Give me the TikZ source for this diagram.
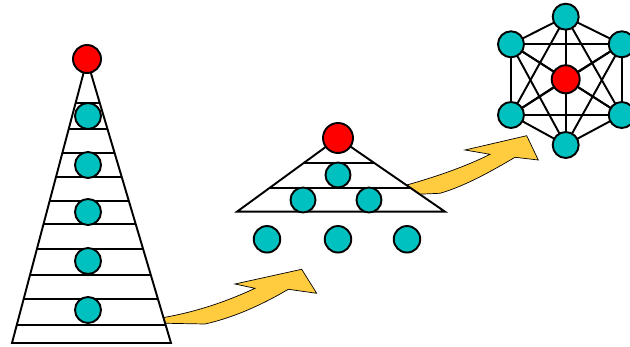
\documentclass[tikz,border=0pt]{standalone}
\usetikzlibrary{calc,backgrounds}
\definecolor{tealball}{RGB}{0,192,192}
\definecolor{goldarrow}{RGB}{255,204,64}
\begin{document}
\begin{tikzpicture}[x=0.02cm,y=-0.02cm,line width=1.1pt,
  ball/.style={circle,draw,fill=tealball,inner sep=0pt,minimum size=0.52cm},
  root/.style={circle,draw,fill=red,inner sep=0pt,minimum size=0.56cm},
  bigarrow/.style={fill=goldarrow,draw=black,line width=0.4pt,line join=miter}]
\useasboundingbox (0,0) rectangle (630,347);
% yellow arrows (tails go under the triangles)
\draw[bigarrow] (150,319.5) -- (165,317.3) .. controls (200,311) and (230,300) .. (255,288.3) -- (235,284) -- (301.7,269.3) -- (316.7,293.3) -- (288.3,289.3) .. controls (260,306) and (232,318) .. (205,324) -- (150,323) -- cycle;
\draw[bigarrow] (395,188) -- (406.7,185) .. controls (432,178) and (465,167) .. (490,154.3) -- (465,150) -- (526.7,135.7) -- (538.3,160) -- (515,157.3) .. controls (490,172) and (465,186) .. (440,193.3) -- (400,195) -- cycle;
% tall tower
\coordinate (tA) at (87,60);
\coordinate (tL) at (12,343);
\coordinate (tR) at (171,343);
\draw[fill=white] (tA) -- (tL) -- (tR) -- cycle;
\foreach \t in {0.151,0.244,0.329,0.413,0.498,0.580,0.668,0.760,0.845,0.936}
  \draw ($(tA)!\t!(tL)$) -- ($(tA)!\t!(tR)$);
\node[root] (t0) at (87,59) {};
\foreach \y [count=\i] in {116,165,212,261,310}
  \node[ball] (t\i) at (88,\y) {};
% flat tree
\coordinate (mA) at (338,138);
\coordinate (mL) at (237,211.7);
\coordinate (mR) at (445,211.7);
\draw[fill=white] (mA) -- (mL) -- (mR) -- cycle;
\foreach \t in {0.335,0.678}
  \draw ($(mA)!\t!(mL)$) -- ($(mA)!\t!(mR)$);
\node[root,minimum size=0.6cm] (m0) at (338,138) {};
\node[ball,minimum size=0.5cm] (m1) at (338,175) {};
\node[ball,minimum size=0.5cm] (m2) at (303,200) {};
\node[ball,minimum size=0.5cm] (m3) at (369,200) {};
\node[ball,minimum size=0.53cm] (b1) at (267,239.3) {};
\node[ball,minimum size=0.53cm] (b2) at (338,239.3) {};
\node[ball,minimum size=0.53cm] (b3) at (407,239.3) {};
% full mesh
\node[root] (g0) at (565.7,79.3) {};
\node[ball] (g1) at (565.7,16.7) {};
\node[ball] (g2) at (621.7,44.3) {};
\node[ball] (g3) at (621.7,115) {};
\node[ball] (g4) at (565.7,145) {};
\node[ball] (g5) at (511,115) {};
\node[ball] (g6) at (511,44.3) {};
\begin{scope}[on background layer]
\pgfsetlinewidth{1.1pt}
\foreach \i in {0,...,5}{
  \pgfmathtruncatemacro\k{\i+1}
  \foreach \j in {\k,...,6}
    \draw (g\i.center) -- (g\j.center);
}
\end{scope}
\end{tikzpicture}
\end{document}
